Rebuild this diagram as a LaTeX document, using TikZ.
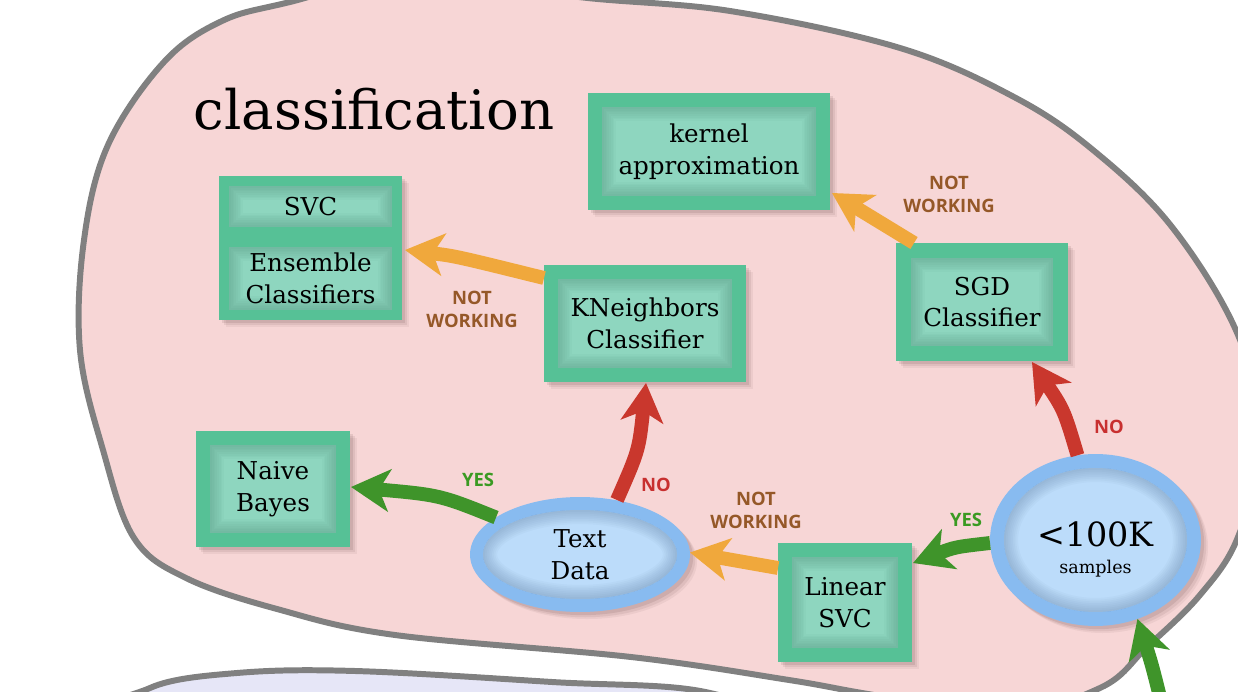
\documentclass[tikz,border=0pt]{standalone}
\usepackage{fontspec}
\setmainfont{DejaVu Serif}
\newfontfamily\labfont{Open Sans}
\usetikzlibrary{arrows.meta,shapes.geometric,shadows,calc}

\definecolor{blobfill}{HTML}{F7D6D6}
\definecolor{blobline}{HTML}{808080}
\definecolor{lavfill}{HTML}{E6E6F7}
\definecolor{boxout}{HTML}{56C196}
\definecolor{boxin}{HTML}{8ED6BF}
\definecolor{boxshade}{HTML}{2F6F58}
\definecolor{ringblue}{HTML}{88BBF0}
\definecolor{ellin}{HTML}{BCDCFA}
\definecolor{ellshade}{HTML}{3A5A80}
\definecolor{arrorange}{HTML}{F0A83C}
\definecolor{arrred}{HTML}{C9372D}
\definecolor{arrgreen}{HTML}{3F942A}
\definecolor{labbrown}{HTML}{955828}
\definecolor{labgreen}{HTML}{3A9A22}
\definecolor{labred}{HTML}{C83030}
\definecolor{shadowcol}{HTML}{402020}

\newcommand\nodefont{\fontsize{14}{18}\selectfont}

\newcommand\boxinner[1]{%
  \coordinate (bsw) at ($(path picture bounding box.south west)+(#1,#1)$);
  \coordinate (bne) at ($(path picture bounding box.north east)-(#1,#1)$);
  \fill[boxin] (bsw) rectangle (bne);
  \begin{scope}
    \clip (bsw) rectangle (bne);
    \foreach \lw in {16pt,14pt,12pt,10pt,8pt,6pt,4pt,2pt}{%
      \draw[boxshade,opacity=0.035,line width=\lw] (bsw) rectangle (bne);}
  \end{scope}}

\newcommand\ellinner[1]{%
  \pgfpointdiff{\pgfpointanchor{path picture bounding box}{center}}{\pgfpointanchor{path picture bounding box}{north east}}%
  \pgfgetlastxy{\erx}{\ery}%
  \fill[ellin] (path picture bounding box.center) ellipse [x radius=\erx-#1, y radius=\ery-#1];
  \begin{scope}
    \clip (path picture bounding box.center) ellipse [x radius=\erx-#1, y radius=\ery-#1];
    \foreach \lw in {16pt,14pt,12pt,10pt,8pt,6pt,4pt,2pt}{%
      \draw[ellshade,opacity=0.035,line width=\lw] (path picture bounding box.center) ellipse [x radius=\erx-#1, y radius=\ery-#1];}
  \end{scope}}

\tikzset{
  softshadow/.style={
    drop shadow={shadow xshift=4pt, shadow yshift=-4pt, opacity=0.06, fill=shadowcol},
    drop shadow={shadow xshift=3pt, shadow yshift=-3pt, opacity=0.08, fill=shadowcol},
    drop shadow={shadow xshift=1.8pt, shadow yshift=-1.8pt, opacity=0.1, fill=shadowcol}},
  gbox/.style={rectangle, fill=boxout, inner sep=0pt, outer sep=0pt, align=center, font=\nodefont,
    softshadow, path picture={\boxinner{#1}}},
  gell/.style={ellipse, fill=ringblue, inner sep=0pt, outer sep=0pt, align=center, font=\nodefont,
    softshadow, path picture={\ellinner{#1}}},
  arr/.style={line width=7.9pt, -{Stealth[length=22pt,width=24pt,inset=6pt]}},
  lab/.style={font=\labfont\bfseries\fontsize{10.5}{13}\selectfont, align=center, inner sep=0pt},
  blobborder/.style={draw=blobline, line width=3.4pt},
}

\begin{document}
\begin{tikzpicture}[x=0.02cm,y=-0.02cm]
\useasboundingbox (0,0) rectangle (1238,692);
\fill[white] (0,0) rectangle (1238,692);
\begin{scope}
\clip (0,0) rectangle (1238,692);

% main blob
\draw[blobborder, fill=blobfill] plot[smooth cycle, tension=0.6] coordinates {
 (80,350) (84,240) (108,145) (164,62) (222,21) (290,2) (430,-30) (571,-4) (730,11)
 (900,48) (1014,97) (1093,150) (1172,227) (1238,335) (1262,440) (1238,537) (1200,595)
 (1147,647) (1100,688) (1000,715) (868,694) (789,680) (631,657) (395,635) (277,609)
 (186,578) (134,538) (103,450)};
% second blob
\draw[blobborder, fill=lavfill] plot[smooth cycle, tension=0.6] coordinates {
 (110,730) (150,688) (237,673) (355,671) (552,682) (710,693) (800,740) (450,800)};

% title
\node[font=\fontsize{31}{36}\selectfont, anchor=base, inner sep=0pt] (title) at (374,130) {classification};

% nodes
\node[gbox=0.28cm, minimum width=4.84cm, minimum height=2.34cm] (kernel) at (709,151.5) {kernel\\approximation};
\node[gbox=0.2cm, minimum width=3.66cm, minimum height=1.22cm] (svc) at (310.5,206.5) {SVC};
\node[gbox=0.2cm, minimum width=3.66cm, minimum height=1.66cm] (ens) at (310.5,278.5) {Ensemble\\Classifiers};
\node[gbox=0.28cm, minimum width=4.04cm, minimum height=2.34cm] (kn) at (645,323.5) {KNeighbors\\Classifier};
\node[gbox=0.3cm, minimum width=3.44cm, minimum height=2.36cm] (sgd) at (982,302) {SGD\\Classifier};
\node[gbox=0.28cm, minimum width=3.08cm, minimum height=2.32cm] (nb) at (273,489) {Naive\\Bayes};
\node[gbox=0.28cm, minimum width=2.68cm, minimum height=2.38cm] (lsvc) at (845,602.5) {Linear\\SVC};
\node[gell=0.26cm, minimum width=4.4cm, minimum height=2.3cm] (td) at (580,554.5) {Text\\Data};
\node[gell=0.28cm, minimum width=4.22cm, minimum height=3.44cm] (k100) at (1095.5,540) {};
\node[font=\fontsize{19}{21}\selectfont, anchor=base, inner sep=0pt] (k100a) at (1095.5,546) {<100K};
\node[font=\fontsize{10}{12}\selectfont, anchor=base, inner sep=0pt] (k100b) at (1095.5,573) {samples};

% arrows
\draw[arr, arrorange] ($(sgd.north west)+(18,0)$) -- ($(kernel.south east)+(2,-17)$);
\draw[arr, arrorange] ($(kn.north west)+(0,13)$) .. controls (455,256) .. ($(ens.north east)+(3,13)$);
\draw[arr, arrred] (k100.102) .. controls (1064,410) .. ($(sgd.south east)+(-36,1)$);
\draw[arr, arrred] ($(td.north)+(37,3)$) .. controls (639,450) .. ($(kn.south)+(1,1)$);
\draw[arr, arrgreen] ($(td.west)+(26,-37)$) .. controls (440,495) .. ($(nb.east)+(1,-2)$);
\draw[arr, arrorange] ($(lsvc.north west)+(0,25)$) -- ($(td.east)+(0,-2)$);
\draw[arr, arrgreen] ($(k100.west)+(0,3)$) .. controls (955,547) .. ($(lsvc.north east)+(1,20)$);
\coordinate (bin) at (1162,705);
\draw[arr, arrgreen] (bin) .. controls (1152,665) .. (k100.-62);

% labels
\node[lab, text=labbrown] (l1) at (949,194) {NOT\\WORKING};
\node[lab, text=labbrown] (l2) at (472,309) {NOT\\WORKING};
\node[lab, text=labbrown] (l3) at (756,510) {NOT\\WORKING};
\node[lab, text=labgreen] (l4) at (478,480) {YES};
\node[lab, text=labgreen] (l5) at (966,520) {YES};
\node[lab, text=labred] (l6) at (656,485) {NO};
\node[lab, text=labred] (l7) at (1109,427) {NO};
\end{scope}
\end{tikzpicture}
\end{document}
